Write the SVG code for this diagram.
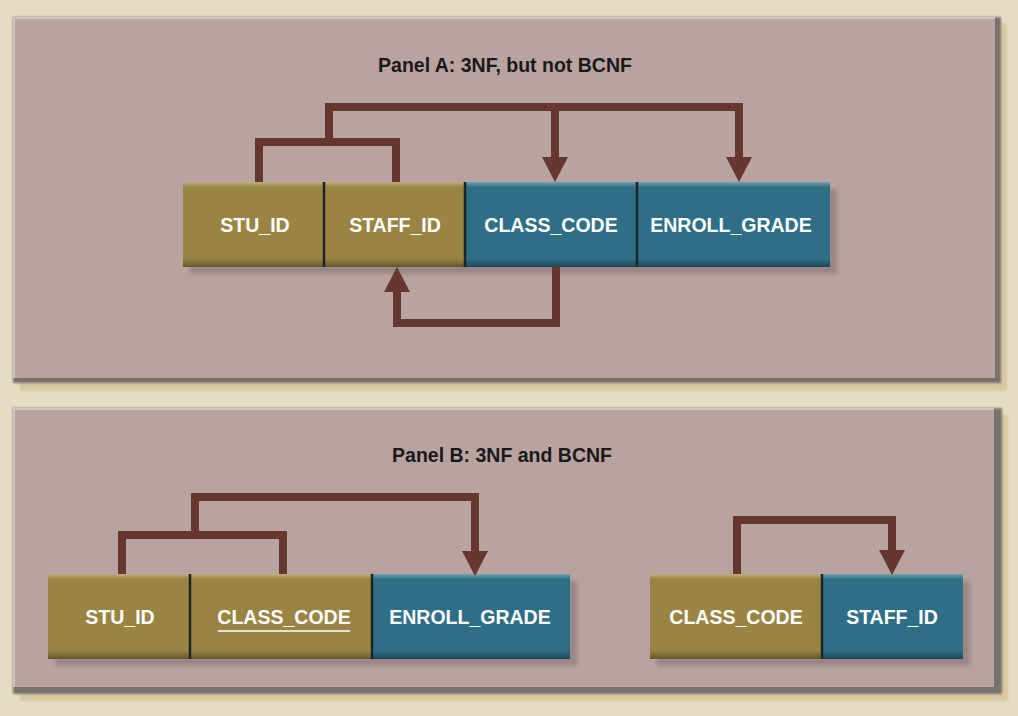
<svg xmlns="http://www.w3.org/2000/svg" width="1018" height="716" viewBox="0 0 1018 716">
  <defs>
    <style>
      .bg { fill: #e5dcc4; }
      .pshadow { fill: #d6ca9e; }
      .pdark { fill: #78716e; }
      .panel { fill: #b9a3a0; }
      .phl { fill: none; stroke: #d3c3c1; stroke-width: 2; }
      .olive { fill: #9a8444; }
      .teal { fill: #2e6f87; }
      .bshadow { fill: #7d7070; opacity: 0.55; }
      .div { stroke: #1c2526; stroke-width: 2.5; }
      .bevel { fill: url(#bevel); }
      .lbl { font-family: "Liberation Sans", Arial, sans-serif; font-weight: bold; font-size: 19.5px; fill: #ffffff; text-anchor: middle; }
      .title { font-family: "Liberation Sans", Arial, sans-serif; font-weight: bold; font-size: 19.5px; fill: #1a1a1a; text-anchor: middle; }
      .conn { fill: none; stroke: #65372f; stroke-width: 8; stroke-linejoin: miter; stroke-linecap: butt; }
    </style>
    <linearGradient id="bevel" x1="0" y1="0" x2="0" y2="1">
      <stop offset="0" stop-color="#ffffff" stop-opacity="0.35"/>
      <stop offset="0.06" stop-color="#ffffff" stop-opacity="0"/>
      <stop offset="0.9" stop-color="#000000" stop-opacity="0"/>
      <stop offset="1" stop-color="#000000" stop-opacity="0.35"/>
    </linearGradient>
    <filter id="blur" x="-5%" y="-20%" width="110%" height="140%">
      <feGaussianBlur stdDeviation="2"/>
    </filter>
    <filter id="soft" x="-2%" y="-2%" width="104%" height="104%">
      <feGaussianBlur stdDeviation="1"/>
    </filter>
    <marker id="arrow" markerUnits="userSpaceOnUse" markerWidth="26" markerHeight="26" refX="0" refY="12" viewBox="0 0 24 24" orient="auto">
      <path d="M0,0 L23,12 L0,24 z" fill="#65372f"/>
    </marker>
  </defs>

  <rect class="bg" x="0" y="0" width="1018" height="716"/>

  <!-- Panel A -->
  <g id="panelA">
    <rect class="pshadow" x="20" y="24" width="987" height="367" filter="url(#soft)"/>
    <rect class="pdark" x="13" y="17" width="988" height="366" filter="url(#soft)"/>
    <rect class="panel" x="13" y="17" width="982" height="361"/>
    <path class="phl" d="M14,378 V18 H995"/>
    <text class="title" x="505" y="72">Panel A: 3NF, but not BCNF</text>
  </g>

  <!-- Panel B -->
  <g id="panelB">
    <rect class="pshadow" x="20" y="415" width="988" height="286" filter="url(#soft)"/>
    <rect class="pdark" x="13" y="408" width="989" height="286" filter="url(#soft)"/>
    <rect class="panel" x="13" y="408" width="981" height="279"/>
    <path class="phl" d="M14,687 V409 H994"/>
    <text class="title" x="502" y="462">Panel B: 3NF and BCNF</text>
  </g>

  <!-- Table A -->
  <g id="tableA-shadow">
    <rect class="bshadow" x="190" y="189" width="647" height="85" filter="url(#blur)"/>
  </g>
  <g id="a-stu-id">
    <rect class="olive" x="183" y="182" width="141" height="85"/>
    <text class="lbl" x="255" y="232">STU_ID</text>
  </g>
  <g id="a-staff-id">
    <rect class="olive" x="324" y="182" width="141" height="85"/>
    <text class="lbl" x="395" y="232">STAFF_ID</text>
  </g>
  <g id="a-class-code">
    <rect class="teal" x="465" y="182" width="172" height="85"/>
    <text class="lbl" x="551" y="232">CLASS_CODE</text>
  </g>
  <g id="a-enroll-grade">
    <rect class="teal" x="637" y="182" width="193" height="85"/>
    <text class="lbl" x="731" y="232">ENROLL_GRADE</text>
  </g>
  <g id="tableA-trim">
    <rect class="bevel" x="183" y="182" width="647" height="85"/>
    <line class="div" x1="324" y1="182" x2="324" y2="267"/>
    <line class="div" x1="465" y1="182" x2="465" y2="267"/>
    <line class="div" x1="637" y1="182" x2="637" y2="267"/>
  </g>

  <!-- Table B1 -->
  <g id="tableB1-shadow">
    <rect class="bshadow" x="55" y="581" width="522" height="85" filter="url(#blur)"/>
  </g>
  <g id="b-stu-id">
    <rect class="olive" x="48" y="574" width="142" height="85"/>
    <text class="lbl" x="120" y="624">STU_ID</text>
  </g>
  <g id="b-class-code">
    <rect class="olive" x="190" y="574" width="182" height="85"/>
    <text class="lbl" x="284" y="624">CLASS_CODE</text>
    <line x1="218" y1="631" x2="350" y2="631" stroke="#ffffff" stroke-width="1.6"/>
  </g>
  <g id="b-enroll-grade">
    <rect class="teal" x="372" y="574" width="198" height="85"/>
    <text class="lbl" x="470" y="624">ENROLL_GRADE</text>
  </g>
  <g id="tableB1-trim">
    <rect class="bevel" x="48" y="574" width="522" height="85"/>
    <line class="div" x1="190" y1="574" x2="190" y2="659"/>
    <line class="div" x1="372" y1="574" x2="372" y2="659"/>
  </g>

  <!-- Table B2 -->
  <g id="tableB2-shadow">
    <rect class="bshadow" x="657" y="581" width="313" height="85" filter="url(#blur)"/>
  </g>
  <g id="b2-class-code">
    <rect class="olive" x="650" y="574" width="172" height="85"/>
    <text class="lbl" x="736" y="624">CLASS_CODE</text>
  </g>
  <g id="b2-staff-id">
    <rect class="teal" x="822" y="574" width="141" height="85"/>
    <text class="lbl" x="892" y="624">STAFF_ID</text>
  </g>
  <g id="tableB2-trim">
    <rect class="bevel" x="650" y="574" width="313" height="85"/>
    <line class="div" x1="822" y1="574" x2="822" y2="659"/>
  </g>

  <!-- Connectors -->
  <g id="connectors">
    <path class="conn" d="M259,182 V142 H396 V182"/>
    <path class="conn" d="M329,142 V107 H739 V157" marker-end="url(#arrow)"/>
    <path class="conn" d="M555,107 V157" marker-end="url(#arrow)"/>
    <path class="conn" d="M556,267 V323 H397 V292" marker-end="url(#arrow)"/>
    <path class="conn" d="M122,574 V535 H283 V574"/>
    <path class="conn" d="M195,535 V497 H475 V551" marker-end="url(#arrow)"/>
    <path class="conn" d="M737,574 V520 H892 V550" marker-end="url(#arrow)"/>
  </g>
</svg>
